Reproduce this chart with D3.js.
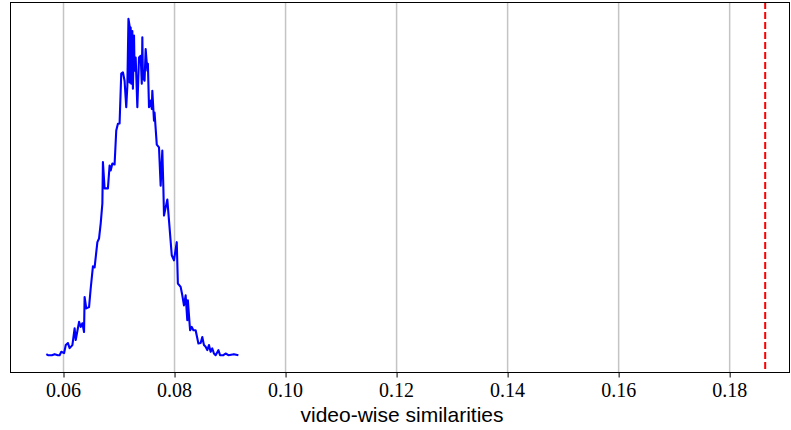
<!DOCTYPE html>
<html>
<head>
<meta charset="utf-8">
<script src="https://cdn.jsdelivr.net/npm/d3@7"></script>
<style>
  body { margin: 0; background: #fff; }
  text.tick-label { font-family: "Liberation Serif", "Times New Roman", serif; font-size: 20px; fill: #000; }
  text.axis-label { font-family: "Liberation Sans", Arial, sans-serif; font-size: 21px; fill: #000; }
</style>
</head>
<body>
<div class="canvas"></div>
<script>
// similarity values (x) and distribution height (y)
const sims = [
  0.0569, 0.0572, 0.0579, 0.0584, 0.0590, 0.0593, 0.0596, 0.0601, 0.0604, 0.0608,
  0.0611, 0.0616, 0.0620, 0.0622, 0.0628, 0.0631, 0.0634, 0.0637, 0.0638, 0.0641,
  0.0646, 0.0649, 0.0653, 0.0656, 0.0661, 0.0664, 0.0667, 0.0670, 0.0671, 0.0674,
  0.0680, 0.0683, 0.0685, 0.0688, 0.0692, 0.0695, 0.0698, 0.0701, 0.0704, 0.0707,
  0.0710, 0.0713, 0.0715, 0.0717, 0.0719, 0.0719, 0.0721, 0.0722, 0.0724, 0.0725,
  0.0727, 0.0728, 0.0730, 0.0733, 0.0736, 0.0739, 0.0741, 0.0742, 0.0743, 0.0746,
  0.0748, 0.0751, 0.0752, 0.0754, 0.0757, 0.0759, 0.0760, 0.0763, 0.0764, 0.0768,
  0.0772, 0.0775, 0.0778, 0.0780, 0.0781, 0.0787, 0.0790, 0.0795, 0.0799, 0.0804,
  0.0806, 0.0811, 0.0814, 0.0817, 0.0820, 0.0823, 0.0824, 0.0828, 0.0831, 0.0834,
  0.0838, 0.0843, 0.0847, 0.0850, 0.0853, 0.0856, 0.0859, 0.0862, 0.0865, 0.0868,
  0.0871, 0.0874, 0.0879, 0.0882, 0.0888, 0.0892, 0.0897, 0.0907, 0.0915
];
const counts = [
  0.3, 0, 0, 0.3, 0, 0, 1.0, 0.6, 3.0, 3.6,
  2.1, 3.0, 8.0, 4.5, 9.9, 8.4, 9.5, 6.9, 17.3, 13.9,
  14.3, 19.9, 26.4, 26.1, 33.6, 34.7, 39.2, 45.1, 57.4, 49.6,
  49.6, 56.4, 54.9, 57.0, 56.7, 66.8, 68.8, 68.9, 83.7, 84.1,
  81.6, 73.7, 80.1, 100, 97.9, 81.1, 97.4, 80.7, 96.4, 79.2,
  95.0, 84.6, 88.5, 73.7, 88.5, 89.0, 80.7, 94.5, 82.6, 81.6,
  91.0, 84.6, 86.6, 73.7, 75.7, 73.2, 78.6, 69.7, 72.1, 62.6,
  61.8, 50.4, 60.8, 49.0, 41.5, 46.3, 40.1, 29.7, 28.2, 33.6,
  21.3, 20.3, 17.8, 14.8, 17.8, 10.4, 16.3, 7.4, 8.4, 7.4,
  7.4, 3.5, 3.6, 5.4, 3.0, 2.5, 1.5, 3.0, 1.0, 2.0,
  0.5, 0, 1.5, 0, 0, 0.5, 0, 0.3, 0
];
const threshold = 0.1864;
const xTicks = [0.06, 0.08, 0.10, 0.12, 0.14, 0.16, 0.18];
const xLabel = "video-wise similarities";

// margins and dimensions
const w = 791;
const h = 430;
const margin = { top: 2, right: 1, bottom: 58, left: 10 };
const graphWidth = w - margin.left - margin.right;
const graphHeight = h - margin.top - margin.bottom;

const svg = d3.select(".canvas").append("svg").attr("width", w).attr("height", h);

const graph = svg
  .append("g")
  .attr("transform", `translate(${margin.left}, ${margin.top})`);

const xScale = d3.scaleLinear().domain([0.05036, 0.19087]).range([0, graphWidth]);
const yScale = d3.scaleLinear().domain([-5, 105]).range([graphHeight, 0]);

// vertical grid
graph
  .append("g")
  .selectAll("line")
  .data(xTicks)
  .enter()
  .append("line")
  .attr("x1", (d) => xScale(d))
  .attr("x2", (d) => xScale(d))
  .attr("y1", 0)
  .attr("y2", graphHeight)
  .attr("stroke", "#c4c4c4")
  .attr("stroke-width", 1.5);

// distribution line
const line = d3
  .line()
  .x((d, i) => xScale(sims[i]))
  .y((d) => yScale(d));

graph
  .append("path")
  .datum(counts)
  .attr("d", line)
  .attr("fill", "none")
  .attr("stroke", "#0000ff")
  .attr("stroke-width", 2.1)
  .attr("stroke-linejoin", "round");

// threshold line
graph
  .append("line")
  .attr("x1", xScale(threshold))
  .attr("x2", xScale(threshold))
  .attr("y1", 0)
  .attr("y2", graphHeight)
  .attr("stroke", "#ff0000")
  .attr("stroke-width", 2)
  .attr("stroke-dasharray", "7,3");

// frame
graph
  .append("rect")
  .attr("x", 0.5)
  .attr("y", 0.5)
  .attr("width", graphWidth - 1)
  .attr("height", graphHeight)
  .attr("fill", "none")
  .attr("stroke", "#000")
  .attr("stroke-width", 1);

// x axis: tick marks from d3, labels drawn separately
const xAxis = d3.axisBottom(xScale).tickValues(xTicks).tickSize(5).tickFormat("");

const xg = graph
  .append("g")
  .attr("transform", `translate(0, ${graphHeight + 0.5})`)
  .call(xAxis);
xg.select(".domain").remove();

graph
  .append("g")
  .selectAll("text")
  .data(xTicks)
  .enter()
  .append("text")
  .attr("class", "tick-label")
  .attr("x", (d) => xScale(d))
  .attr("y", graphHeight + 25)
  .attr("text-anchor", "middle")
  .text(d3.format(".2f"));

// axis label
graph
  .append("text")
  .attr("class", "axis-label")
  .attr("x", graphWidth / 2 + 2)
  .attr("y", graphHeight + 50)
  .attr("text-anchor", "middle")
  .text(xLabel);
</script>
</body>
</html>
